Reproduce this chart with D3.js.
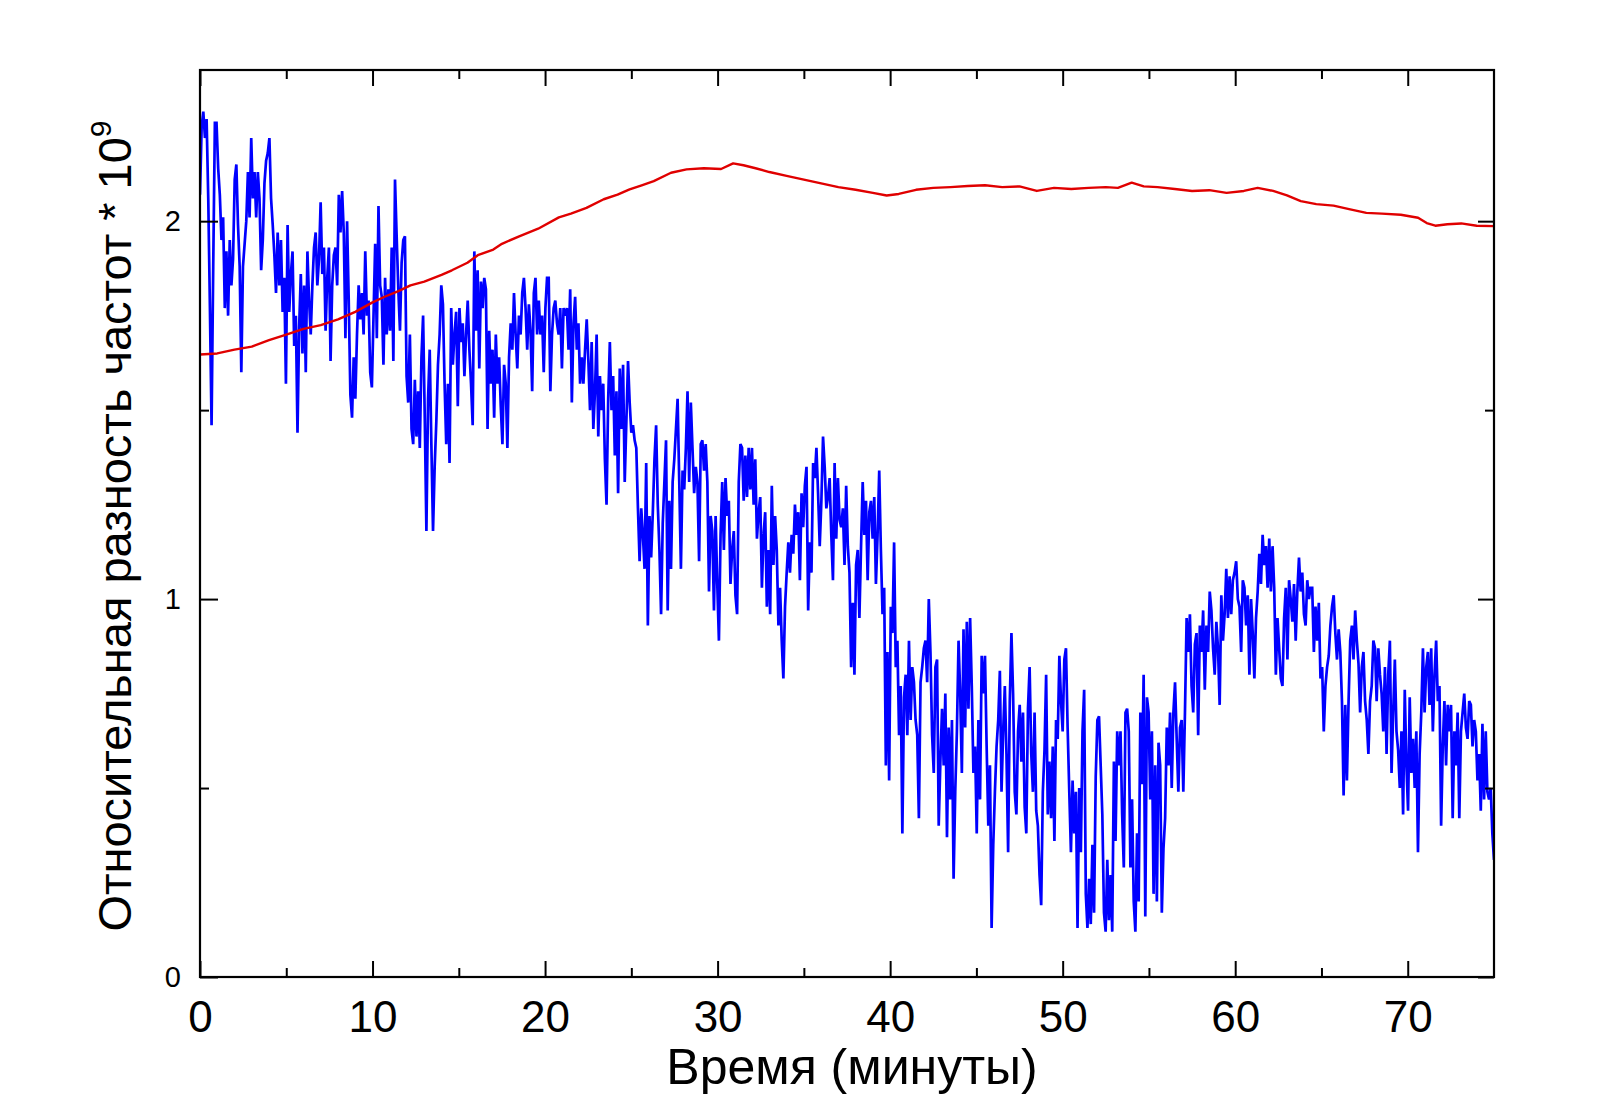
<!DOCTYPE html>
<html>
<head>
<meta charset="utf-8">
<script src="https://cdn.jsdelivr.net/npm/d3@7/dist/d3.min.js"></script>
<style>
  html, body { margin: 0; padding: 0; background: #ffffff; }
  svg { display: block; }
  text { font-family: "Liberation Sans", Arial, sans-serif; fill: #000; }
</style>
</head>
<body>
<svg id="chart" width="1600" height="1117"></svg>
<script>
// ---------------- DATA ----------------
const xTickValues = [0, 10, 20, 30, 40, 50, 60, 70];
const xMinorTicks = [5, 15, 25, 35, 45, 55, 65];
const yTickValues = [0, 1, 2];
const yMinorTicks = [0.5, 1.5];
const xLabel = "Время (минуты)";
const yLabel = "Относительная разность частот * 10";
const yLabelSup = "9";
const timeRange = [0, 75];

// blue series: samples, evenly spaced over 0..75 min
const blueValues = [
  2.07, 2.25, 2.29, 2.22, 2.27, 2.06, 1.77, 1.46, 1.88, 2.26, 2.26, 2.14, 2.07, 1.95, 2.01, 1.77, 1.92, 1.75, 1.95, 1.83,
  1.90, 2.11, 2.15, 1.99, 1.88, 1.60, 1.88, 1.94, 2.00, 2.13, 2.01, 2.22, 2.06, 2.13, 2.01, 2.13, 2.06, 1.87, 1.95, 2.10,
  2.16, 2.18, 2.22, 2.06, 1.99, 1.91, 1.81, 1.97, 1.83, 1.95, 1.76, 1.85, 1.57, 1.99, 1.76, 1.86, 1.92, 1.67, 1.75, 1.44,
  1.72, 1.86, 1.65, 1.83, 1.60, 1.92, 1.79, 1.70, 1.83, 1.93, 1.97, 1.83, 1.90, 2.05, 1.86, 1.93, 1.71, 1.85, 1.93, 1.63,
  1.83, 1.91, 1.93, 1.83, 2.07, 1.97, 2.08, 1.97, 1.69, 2.00, 1.79, 1.54, 1.48, 1.64, 1.53, 1.70, 1.83, 1.74, 1.81, 1.70,
  1.92, 1.75, 1.79, 1.60, 1.56, 1.75, 1.94, 1.69, 2.04, 1.83,
  1.80, 1.62, 1.85, 1.70, 1.82, 1.71, 1.93, 1.63, 2.11, 1.96, 1.82, 1.71, 1.89, 1.95, 1.96, 1.59, 1.52, 1.70, 1.45, 1.41,
  1.58, 1.43, 1.55, 1.40, 1.64, 1.75, 1.48, 1.18, 1.53, 1.66, 1.41, 1.18, 1.35, 1.47, 1.62, 1.70, 1.83, 1.78, 1.57, 1.41,
  1.57, 1.36, 1.77, 1.62, 1.70, 1.76, 1.51, 1.77, 1.68, 1.73, 1.59, 1.70, 1.79, 1.66, 1.57, 1.46, 1.92, 1.71, 1.87, 1.61,
  1.84, 1.77, 1.85, 1.82, 1.45, 1.71, 1.57, 1.66, 1.48, 1.70, 1.57, 1.64, 1.51, 1.41, 1.62, 1.57, 1.40, 1.64, 1.73, 1.66,
  1.81, 1.70, 1.61, 1.75, 1.70, 1.81, 1.85, 1.77, 1.66, 1.78, 1.71, 1.55, 1.81, 1.85, 1.70, 1.79, 1.70, 1.75, 1.60, 1.77,
  1.85, 1.85, 1.55, 1.70, 1.77, 1.79, 1.73, 1.70, 1.77, 1.61, 1.77, 1.75,
  1.77, 1.66, 1.82, 1.52, 1.73, 1.80, 1.66, 1.73, 1.57, 1.64, 1.57, 1.66, 1.74, 1.63, 1.50, 1.68, 1.45, 1.55, 1.70, 1.43,
  1.59, 1.50, 1.57, 1.37, 1.25, 1.53, 1.68, 1.50, 1.59, 1.38, 1.55, 1.28, 1.61, 1.45, 1.62, 1.31, 1.47, 1.63, 1.52, 1.44,
  1.46, 1.42, 1.40, 1.24, 1.10, 1.24, 1.17, 1.08, 1.36, 0.93, 1.22, 1.11, 1.23, 1.37, 1.46, 1.25, 1.13, 0.96, 1.20, 1.31,
  1.42, 0.97, 1.26, 1.08, 1.31, 1.37, 1.45, 1.53, 1.31, 1.08, 1.34, 1.29, 1.40, 1.55, 1.31, 1.52, 1.40, 1.28, 1.35, 1.31,
  1.10, 1.41, 1.42, 1.34, 1.41, 1.31, 1.02, 1.22, 1.18, 0.97, 1.22, 1.04, 0.89, 1.17, 1.31, 1.13, 1.32, 1.22, 1.26, 1.04,
  1.13, 1.18, 1.01, 0.96, 1.31, 1.41, 1.40, 1.26, 1.38, 1.27, 1.40, 1.29,
  1.40, 1.25, 1.37, 1.16, 1.23, 1.27, 1.03, 1.17, 1.23, 0.98, 1.13, 0.96, 1.30, 1.09, 1.22, 1.13, 0.93, 1.03, 0.89, 0.79,
  0.98, 1.07, 1.15, 1.07, 1.17, 1.12, 1.25, 1.17, 1.23, 1.05, 1.28, 1.19, 1.30, 1.35, 0.97, 1.15, 1.07, 1.36, 1.32, 1.40,
  1.28, 1.14, 1.26, 1.43, 1.35, 1.24, 1.27, 1.32, 1.17, 1.05, 1.36, 1.16, 1.32, 1.21, 1.19, 1.24, 1.09, 1.30, 1.14, 1.07,
  0.82, 0.99, 0.80, 1.09, 1.13, 0.95, 1.14, 1.31, 1.17, 1.26, 1.05, 1.23, 1.26, 1.16, 1.27, 1.04, 1.17, 1.34, 1.13, 0.96,
  1.03, 0.56, 0.86, 0.52, 0.98, 0.91, 1.15, 0.82, 0.89, 0.64, 0.77, 0.38, 0.74, 0.80, 0.64, 0.89, 0.68, 0.82, 0.78, 0.68,
  0.64, 0.42, 0.78, 0.82, 0.87, 0.89, 0.78, 1.00, 0.86, 0.64, 0.54, 0.82,
  0.84, 0.40, 0.57, 0.71, 0.56, 0.75, 0.37, 0.66, 0.47, 0.68, 0.26, 0.49, 0.65, 0.89, 0.75, 0.54, 0.92, 0.66, 0.94, 0.71,
  0.95, 0.77, 0.54, 0.61, 0.38, 0.68, 0.47, 0.85, 0.75, 0.85, 0.61, 0.40, 0.56, 0.13, 0.35, 0.49, 0.61, 0.68, 0.81, 0.49,
  0.65, 0.77, 0.59, 0.33, 0.73, 0.91, 0.75, 0.49, 0.43, 0.65, 0.72, 0.57, 0.70, 0.45, 0.38, 0.71, 0.82, 0.59, 0.49, 0.70,
  0.44, 0.40, 0.27, 0.19, 0.49, 0.60, 0.80, 0.43, 0.57, 0.42, 0.61, 0.36, 0.68, 0.63, 0.85, 0.73, 0.65, 0.84, 0.87, 0.66,
  0.49, 0.33, 0.52, 0.38, 0.49, 0.13, 0.50, 0.33, 0.65, 0.76, 0.22, 0.13, 0.26, 0.14, 0.35, 0.17, 0.53, 0.68, 0.69, 0.56,
  0.43, 0.17, 0.12, 0.31, 0.15, 0.27, 0.12, 0.57, 0.36, 0.65, 0.56, 0.65, 0.43, 0.29, 0.70,
  0.71, 0.65, 0.29, 0.47, 0.20, 0.12, 0.38, 0.20, 0.70, 0.51, 0.80, 0.16, 0.74, 0.70, 0.47, 0.65, 0.22, 0.56, 0.20, 0.62,
  0.56, 0.17, 0.34, 0.42, 0.66, 0.56, 0.70, 0.50, 0.70, 0.78, 0.63, 0.49, 0.66, 0.68, 0.49, 0.70, 0.95, 0.86, 0.96, 0.77,
  0.70, 0.88, 0.91, 0.64, 0.93, 0.86, 0.97, 0.76, 0.93, 0.86, 1.02, 0.97, 0.87, 0.80, 0.94, 0.87, 0.72, 1.01, 0.89, 0.96,
  1.08, 0.95, 1.06, 0.96, 1.05, 1.07, 1.10, 1.00, 0.98, 0.86, 1.05, 1.03, 0.93, 1.01, 0.80, 1.00, 0.91, 0.79, 0.95, 1.02,
  1.12, 1.04, 1.17, 1.09, 1.14, 1.03, 1.16, 1.02, 1.14, 1.03, 0.80, 0.95, 0.87, 0.79, 0.77, 0.95, 1.03, 0.84, 1.05, 1.00,
  0.94, 1.04, 0.89, 1.02, 1.11, 1.02, 1.07, 0.96, 0.93, 1.05, 1.00, 1.03,
  1.03, 0.86, 0.98, 0.89, 0.99, 0.79, 0.82, 0.65, 0.77, 0.82, 0.85, 0.93, 0.98, 1.01, 0.91, 0.84, 0.92, 0.86, 0.73, 0.48,
  0.72, 0.52, 0.73, 0.89, 0.93, 0.84, 0.97, 0.89, 0.83, 0.70, 0.82, 0.86, 0.73, 0.68, 0.59, 0.73, 0.77, 0.89, 0.87, 0.73,
  0.87, 0.80, 0.75, 0.65, 0.82, 0.59, 0.80, 0.89, 0.54, 0.70, 0.84, 0.65, 0.60, 0.50, 0.65, 0.43, 0.76, 0.56, 0.44, 0.74,
  0.54, 0.63, 0.50, 0.65, 0.33, 0.59, 0.70, 0.87, 0.70, 0.82, 0.86, 0.72, 0.87, 0.65, 0.80, 0.89, 0.73, 0.77, 0.40, 0.61,
  0.73, 0.56, 0.72, 0.65, 0.72, 0.42, 0.65, 0.56, 0.70, 0.42, 0.65, 0.70, 0.75, 0.66, 0.63, 0.73, 0.72, 0.61, 0.68, 0.65,
  0.52, 0.59, 0.44, 0.67, 0.47, 0.65, 0.49, 0.47, 0.50, 0.38, 0.31
];

// red series: (time, value) pairs
const redTimes = [
  0, 1.0, 2.0, 3.0, 4.0, 5.0, 6.0, 7.0, 8.0, 9.0, 10.0, 10.7, 11.5, 12.2, 13.0, 14.0, 14.6, 15.5, 16.1, 17.0,
  17.5, 18.5, 19.6, 20.8, 21.5, 22.4, 23.4, 24.2, 24.9, 25.6, 26.3, 27.3, 28.2, 29.2, 30.2, 30.9, 31.5, 32.2, 33.0, 34.0,
  35.0, 36.0, 37.0, 38.0, 39.0, 39.8, 40.5, 41.5, 42.5, 43.5, 44.5, 45.5, 46.5, 47.5, 48.5, 49.5, 50.5, 51.5, 52.5, 53.2,
  54.0, 54.7, 55.5, 56.5, 57.5, 58.5, 59.5, 60.5, 61.3, 62.2, 63.0, 63.8, 64.7, 65.7, 66.6, 67.6, 68.5, 69.6, 70.6, 71.1,
  71.6, 72.3, 73.1, 74.0, 75.0
];
const redValues = [
  1.647, 1.650, 1.660, 1.668, 1.685, 1.700, 1.715, 1.725, 1.740, 1.760, 1.785, 1.800, 1.815, 1.830, 1.840, 1.858, 1.870, 1.890, 1.910, 1.925,
  1.940, 1.960, 1.980, 2.010, 2.020, 2.035, 2.058, 2.070, 2.084, 2.095, 2.106, 2.128, 2.137, 2.140, 2.138, 2.153, 2.148, 2.140, 2.130, 2.120,
  2.110, 2.100, 2.090, 2.083, 2.075, 2.068, 2.072, 2.083, 2.088, 2.090, 2.093, 2.095, 2.090, 2.092, 2.080, 2.088, 2.085, 2.088, 2.090, 2.088,
  2.102, 2.092, 2.090, 2.085, 2.080, 2.082, 2.075, 2.080, 2.088, 2.080, 2.068, 2.053, 2.045, 2.041, 2.032, 2.022, 2.020, 2.017, 2.009, 1.995,
  1.988, 1.992, 1.994, 1.988, 1.987
];

// ---------------- CHART ----------------
const W = 1600, H = 1117;
const plot = { left: 200, right: 1494, top: 70, bottom: 977 };

const svg = d3.select("#chart");
svg.append("rect").attr("width", W).attr("height", H).attr("fill", "#ffffff");

const x = d3.scaleLinear().domain(timeRange).range([plot.left, plot.right]);
const y = d3.scaleLinear().domain([0, 2.4]).range([plot.bottom, plot.top]);

const step = (timeRange[1] - timeRange[0]) / (blueValues.length - 1);
const blueData = blueValues.map((v, i) => [timeRange[0] + i * step, v]);
const redData = redTimes.map((t, i) => [t, redValues[i]]);

const line = d3.line().x(d => x(d[0])).y(d => y(d[1]));

svg.append("clipPath").attr("id", "clip")
  .append("rect").attr("x", plot.left).attr("y", plot.top)
  .attr("width", plot.right - plot.left).attr("height", plot.bottom - plot.top);

const g = svg.append("g").attr("clip-path", "url(#clip)");
g.append("path").datum(blueData).attr("d", line)
  .attr("fill", "none").attr("stroke", "#0000ff").attr("stroke-width", 2.7)
  .attr("stroke-linejoin", "miter").attr("stroke-miterlimit", 3);
g.append("path").datum(redData).attr("d", line)
  .attr("fill", "none").attr("stroke", "#e00000").attr("stroke-width", 2.4)
  .attr("stroke-linejoin", "round");

function styleAxis(sel) {
  sel.select(".domain").remove();
  sel.selectAll(".tick line").attr("stroke", "#000").attr("stroke-width", 2);
}

// bottom axis (major with labels, ticks pointing inward)
svg.append("g").attr("transform", `translate(0,${plot.bottom})`)
  .call(d3.axisBottom(x).tickValues(xTickValues).tickSize(-16).tickPadding(24).tickFormat(d3.format("d")))
  .call(styleAxis)
  .call(s => s.selectAll("text").attr("font-size", 44).attr("font-family", "Liberation Sans, Arial, sans-serif"));
svg.append("g").attr("transform", `translate(0,${plot.bottom})`)
  .call(d3.axisBottom(x).tickValues(xMinorTicks).tickSize(-9).tickFormat(""))
  .call(styleAxis);
// top axis
svg.append("g").attr("transform", `translate(0,${plot.top})`)
  .call(d3.axisTop(x).tickValues(xTickValues).tickSize(-16).tickFormat(""))
  .call(styleAxis);
svg.append("g").attr("transform", `translate(0,${plot.top})`)
  .call(d3.axisTop(x).tickValues(xMinorTicks).tickSize(-9).tickFormat(""))
  .call(styleAxis);
// left axis
svg.append("g").attr("transform", `translate(${plot.left},0)`)
  .call(d3.axisLeft(y).tickValues(yTickValues).tickSize(-18).tickPadding(19).tickFormat(d3.format("d")))
  .call(styleAxis)
  .call(s => s.selectAll("text").attr("font-size", 29).attr("font-family", "Liberation Sans, Arial, sans-serif"));
svg.append("g").attr("transform", `translate(${plot.left},0)`)
  .call(d3.axisLeft(y).tickValues(yMinorTicks).tickSize(-9).tickFormat(""))
  .call(styleAxis);
// right axis
svg.append("g").attr("transform", `translate(${plot.right},0)`)
  .call(d3.axisRight(y).tickValues(yTickValues).tickSize(-16).tickFormat(""))
  .call(styleAxis);
svg.append("g").attr("transform", `translate(${plot.right},0)`)
  .call(d3.axisRight(y).tickValues(yMinorTicks).tickSize(-9).tickFormat(""))
  .call(styleAxis);

// frame
svg.append("rect")
  .attr("x", plot.left).attr("y", plot.top)
  .attr("width", plot.right - plot.left).attr("height", plot.bottom - plot.top)
  .attr("fill", "none").attr("stroke", "#000").attr("stroke-width", 2.2);

// axis titles
svg.append("text")
  .attr("x", 852).attr("y", 1084)
  .attr("text-anchor", "middle").attr("font-size", 50)
  .text(xLabel);

const yt = svg.append("text")
  .attr("transform", "translate(131,526) rotate(-90)")
  .attr("text-anchor", "middle").attr("font-size", 47);
yt.append("tspan").text(yLabel);
yt.append("tspan").attr("font-size", 30).attr("dy", -20).text(yLabelSup);
</script>
</body>
</html>
